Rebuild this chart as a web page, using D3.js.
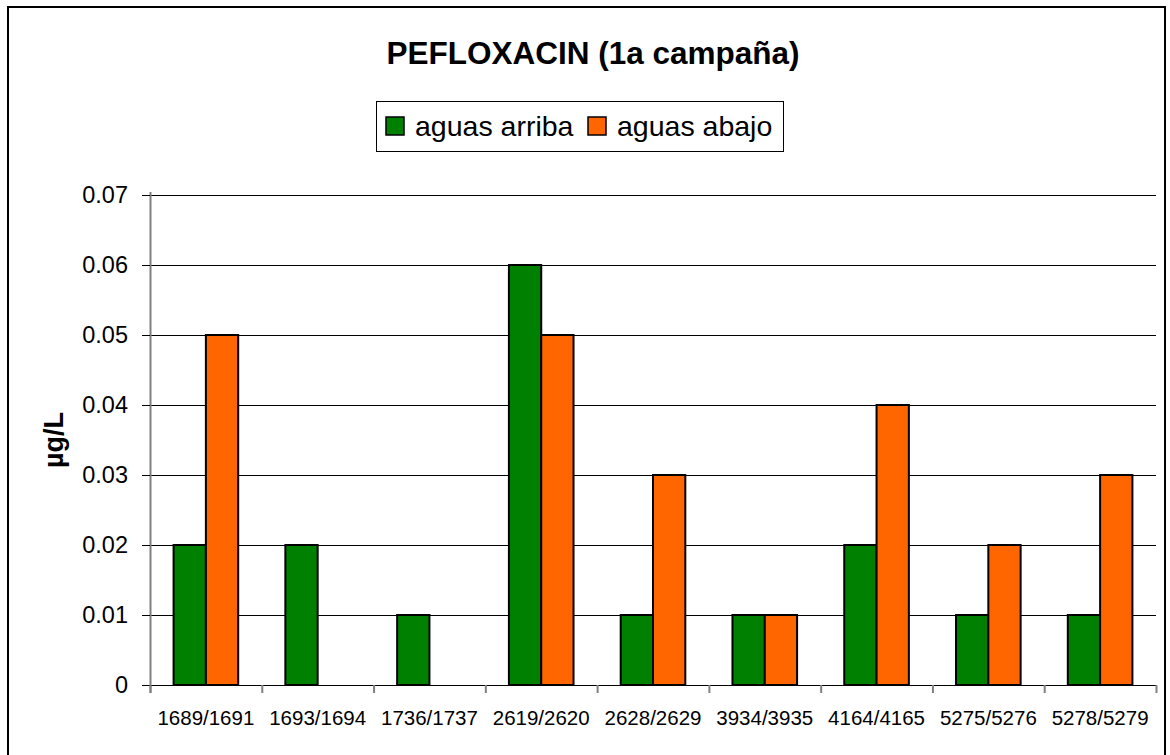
<!DOCTYPE html>
<html><head><meta charset="utf-8">
<script src="https://cdn.jsdelivr.net/npm/d3@7"></script>
<style>body{margin:0;background:#fff;} svg{display:block;font-family:"Liberation Sans",Arial,sans-serif;}</style>
</head><body>
<svg id="c" width="1170" height="755"></svg>
<script>
const categories = ["1689/1691","1693/1694","1736/1737","2619/2620","2628/2629","3934/3935","4164/4165","5275/5276","5278/5279"];
const seriesNames = ["aguas arriba","aguas abajo"];
const seriesColors = ["#008000","#FF6600"];
const arriba = [0.02,0.02,0.01,0.06,0.01,0.01,0.02,0.01,0.01];
const abajo  = [0.05,0,0,0.05,0.03,0.01,0.04,0.02,0.03];
const yTicks = [0,0.01,0.02,0.03,0.04,0.05,0.06,0.07];
const titleText = "PEFLOXACIN (1a campaña)";
const yLabel = "µg/L";

const svg = d3.select("#c");
const L = 150, R = 1156, T = 195, B = 685;

svg.append("rect").attr("x",8).attr("y",7).attr("width",1157).attr("height",760)
  .attr("fill","none").attr("stroke","#000").attr("stroke-width",2);

const x = d3.scaleBand().domain(categories).range([L,R]).paddingInner(0).paddingOuter(0);
const x1 = d3.scaleBand().domain(seriesNames).range([0,x.bandwidth()]).paddingInner(0).paddingOuter(0.73);
const y = d3.scaleLinear().domain([0,0.07]).range([B,T]);

// gridlines
svg.append("g").selectAll("line").data(yTicks.filter(d=>d>0)).join("line")
  .attr("x1",L).attr("x2",R).attr("y1",d=>Math.round(y(d))+0.5).attr("y2",d=>Math.round(y(d))+0.5)
  .attr("stroke","#000").attr("stroke-width",1);

// bars
const data = categories.map((c,i)=>({c, vals:[arriba[i],abajo[i]]}));
const g = svg.append("g");
data.forEach(d=>{
  d.vals.forEach((v,j)=>{
    if(v<=0) return;
    g.append("rect")
      .attr("x",x(d.c)+x1(seriesNames[j]))
      .attr("y",y(v))
      .attr("width",x1.bandwidth())
      .attr("height",y(0)-y(v))
      .attr("fill",seriesColors[j]).attr("stroke","#000").attr("stroke-width",2);
  });
});

// y axis
const ya = svg.append("g").attr("transform",`translate(${L},0)`)
  .call(d3.axisLeft(y).tickValues(yTicks).tickFormat(d=>d===0?"0":d3.format(".2f")(d)).tickSize(8).tickPadding(14));
ya.select(".domain").attr("stroke","#808080").attr("stroke-width",2).attr("d",`M0.5,${T-3}V${B+8}`);
ya.selectAll(".tick line").attr("stroke","#000");
ya.selectAll("text").attr("font-size",23.5).attr("fill","#000").attr("font-family","Liberation Sans, Arial, sans-serif");

// x axis
const xa = svg.append("g").attr("transform",`translate(0,${B})`);
xa.append("line").attr("x1",L-8).attr("x2",R+1).attr("y1",0.5).attr("y2",0.5).attr("stroke","#000");
const bounds = categories.map(c=>x(c)).concat([R]);
xa.selectAll("line.t").data(bounds).join("line").attr("class","t")
  .attr("x1",d=>d+0.5).attr("x2",d=>d+0.5).attr("y1",0).attr("y2",8).attr("stroke","#808080").attr("stroke-width",2);
xa.selectAll("text").data(categories).join("text")
  .attr("x",d=>x(d)+x.bandwidth()/2).attr("y",40).attr("text-anchor","middle")
  .attr("font-size",20.5).attr("fill","#000").text(d=>d);

// title
svg.append("text").attr("x",593).attr("y",64).attr("text-anchor","middle")
  .attr("font-size",31.5).attr("font-weight","bold").text(titleText);

// y label
svg.append("text").attr("transform","translate(63,440) rotate(-90)").attr("text-anchor","middle")
  .attr("font-size",27).attr("font-weight","bold").text(yLabel);

// legend
const lg = svg.append("g");
lg.append("rect").attr("x",376.5).attr("y",101.5).attr("width",407).attr("height",50)
  .attr("fill","#fff").attr("stroke","#000").attr("stroke-width",1);
const legX = [386, 588];
seriesNames.forEach((n,i)=>{
  lg.append("rect").attr("x",legX[i]).attr("y",117).attr("width",18).attr("height",18)
    .attr("fill",seriesColors[i]).attr("stroke","#000").attr("stroke-width",1.5);
  lg.append("text").attr("x",legX[i]+29).attr("y",136).attr("font-size",28.5).text(n);
});
</script>
</body></html>
